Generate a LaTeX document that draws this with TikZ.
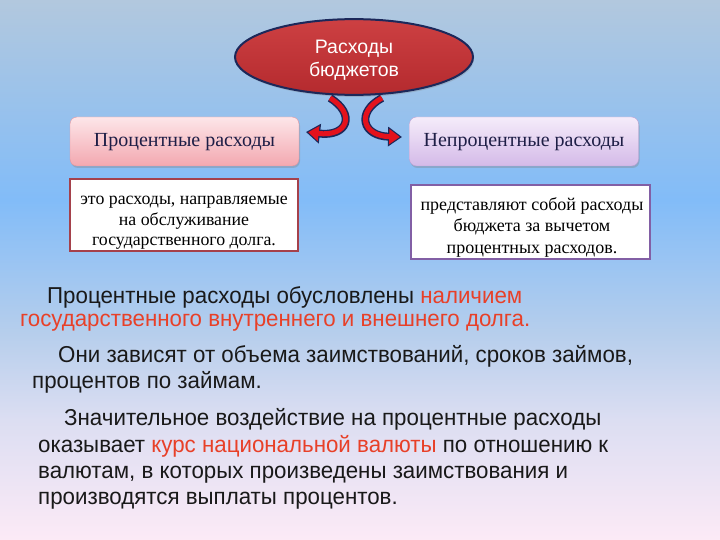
\documentclass[tikz,border=0pt]{standalone}
\usepackage{fontspec}
\setmainfont{Liberation Serif}
\newfontfamily\sansf{Liberation Sans}
\newfontfamily\bodyf[FakeStretch=0.97]{Liberation Sans}
\usetikzlibrary{arrows.meta,shadows,shapes.geometric}
\definecolor{bgA}{RGB}{252,234,246}
\definecolor{bgB}{RGB}{220,222,242}
\definecolor{bgC}{RGB}{182,206,236}
\definecolor{bgD}{RGB}{130,188,248}
\definecolor{bgE}{RGB}{178,200,222}
\pgfdeclareverticalshading{bgshade}{100bp}{color(0bp)=(bgA); color(25bp)=(bgA); color(36.1bp)=(bgB); color(44.2bp)=(bgC); color(56.5bp)=(bgD); color(75bp)=(bgE); color(100bp)=(bgE)}
\definecolor{navy}{RGB}{28,40,90}
\definecolor{ellred}{RGB}{194,52,54}
\definecolor{arrred}{RGB}{228,18,28}
\definecolor{boxtxt}{RGB}{30,30,70}
\definecolor{accent}{RGB}{232,64,40}
\definecolor{bodytxt}{RGB}{25,25,25}
\tikzset{
  headbox/.style={rounded corners=7pt, minimum width=229pt, minimum height=49pt,
    font=\fontsize{20}{24}\selectfont, text=boxtxt, text height=12pt, text depth=2pt,
    drop shadow={shadow xshift=1pt, shadow yshift=-2pt, opacity=0.35}},
  defbox/.style={fill=white, line width=1.8pt},
  deftext/.style={align=center, inner sep=0pt, text=black},
  bodyline/.style={anchor=base west, inner sep=0pt, text=bodytxt,
    font=\bodyf\fontsize{23}{26}\selectfont},
  arrout/.style={navy, line width=8pt, -{Triangle[length=14pt,width=19pt]}},
  arrin/.style={arrred, line width=5pt, shorten >=2.2pt, -{Triangle[length=10.5pt,width=14.5pt]}}
}
\begin{document}
\begin{tikzpicture}[x=1pt,y=-1pt]
\useasboundingbox (0,0) rectangle (720,540);
\shade[shading=bgshade] (0,0) rectangle (720,540);

\node[ellipse, minimum width=238pt, minimum height=64pt, top color={rgb,255:red,205;green,64;blue,66}, bottom color={rgb,255:red,180;green,42;blue,46}, draw=navy,
  line width=2pt, text=white, align=center, font=\sansf\fontsize{19.5}{23}\selectfont,
  drop shadow={shadow xshift=1pt, shadow yshift=-2pt, opacity=0.3}]
  (root) at (354,57) {\rule{0pt}{20pt}Расходы\\бюджетов};

\node[headbox, top color={rgb,255:red,253;green,230;blue,233}, bottom color={rgb,255:red,243;green,168;blue,176},
  draw={rgb,255:red,225;green,150;blue,160}] (pct) at (184.5,141.5) {Процентные расходы};
\node[headbox, top color={rgb,255:red,245;green,236;blue,250}, bottom color={rgb,255:red,212;green,186;blue,232},
  draw={rgb,255:red,185;green,160;blue,210}] (npct) at (524,141.5) {Непроцентные расходы};

\node[defbox, draw={rgb,255:red,165;green,65;blue,75}, minimum width=228pt, minimum height=72pt]
  (ldef) at (184,215) {};
\node[deftext, font=\fontsize{17.8}{20.5}\selectfont] (ldeft) at (184,223)
  {это расходы, направляемые\\на обслуживание\\государственного долга.};
\node[defbox, draw={rgb,255:red,130;green,95;blue,165}, minimum width=239pt, minimum height=74pt]
  (rdef) at (530.5,222) {};
\node[deftext, font=\fontsize{18}{21.5}\selectfont] (rdeft) at (532,227)
  {представляют собой расходы\\бюджета за вычетом\\процентных расходов.};

\coordinate (la0) at (330,98);
\coordinate (la1) at (306,132);
\coordinate (ra0) at (382,98);
\coordinate (ra1) at (402,137);
\draw[arrout] (la0) .. controls (356,114) and (348,137) .. (la1);
\draw[arrin]  (la0) .. controls (356,114) and (348,137) .. (la1);
\draw[arrout] (ra0) .. controls (356,112) and (362,136) .. (ra1);
\draw[arrin]  (ra0) .. controls (356,112) and (362,136) .. (ra1);

\node[bodyline] (p1a) at (47,303) {Процентные расходы обусловлены \textcolor{accent}{наличием}};
\node[bodyline, text=accent] (p1b) at (20,326) {государственного внутреннего и внешнего долга.};
\node[bodyline] (p2a) at (58,362) {Они зависят от объема заимствований, сроков займов,};
\node[bodyline] (p2b) at (32,388) {процентов по займам.};
\node[bodyline] (p3a) at (64,425) {Значительное воздействие на процентные расходы};
\node[bodyline] (p3b) at (38,452) {оказывает \textcolor{accent}{курс национальной валюты} по отношению к};
\node[bodyline] (p3c) at (38,478) {валютам, в которых произведены заимствования и};
\node[bodyline] (p3d) at (38,504) {производятся выплаты процентов.};
\end{tikzpicture}
\end{document}
